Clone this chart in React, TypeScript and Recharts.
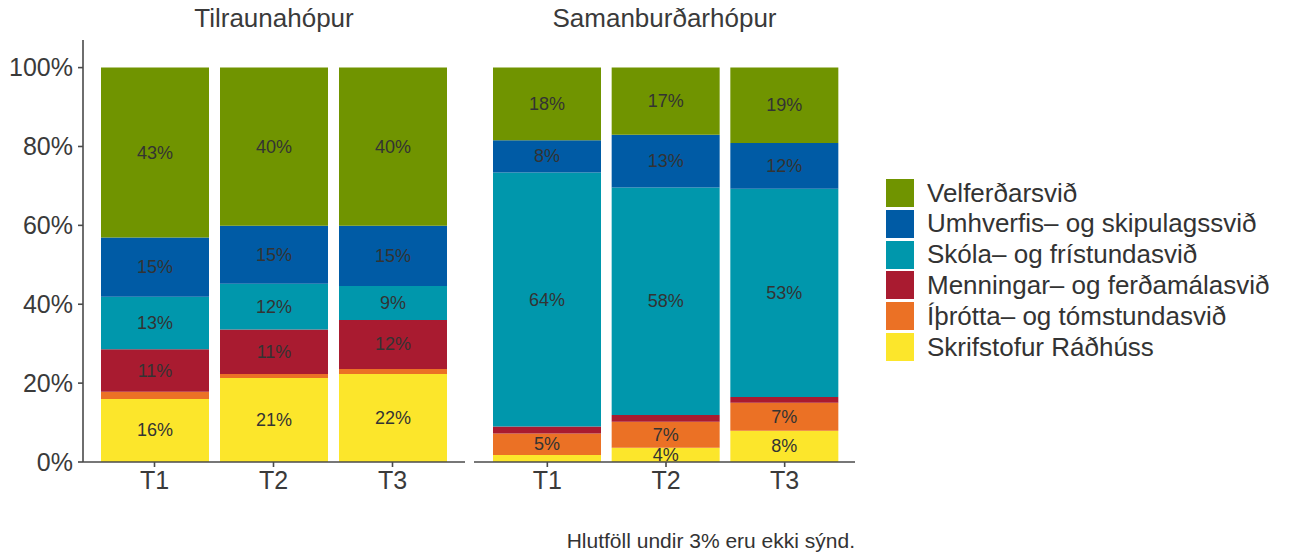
import React from "react";
import { BarChart, Bar, XAxis, YAxis, LabelList } from "recharts";

const periods = ["T1", "T2", "T3"];

// Tilraunahópur (share in %)
const tilSkrif = [16.0, 21.3, 22.3];
const tilIthrott = [1.8, 1.0, 1.3];
const tilMenning = [10.8, 11.3, 12.4];
const tilSkoli = [13.3, 11.6, 8.6];
const tilUmhverfi = [15.0, 14.7, 15.3];
const tilVelferd = [43.1, 40.1, 40.1];

// Samanburðarhópur (share in %)
const samSkrif = [1.8, 3.6, 7.9];
const samIthrott = [5.4, 6.6, 7.1];
const samMenning = [1.8, 1.7, 1.5];
const samSkoli = [64.4, 57.7, 52.8];
const samUmhverfi = [8.2, 13.4, 11.6];
const samVelferd = [18.4, 17.0, 19.1];

const yTicks = [0, 20, 40, 60, 80, 100];

// bottom to top in the stack
const series = [
  { key: "skrif", name: "Skrifstofur Ráðhúss", color: "#fce62b" },
  { key: "ithrott", name: "Íþrótta– og tómstundasvið", color: "#eb7125" },
  { key: "menning", name: "Menningar– og ferðamálasvið", color: "#a91b30" },
  { key: "skoli", name: "Skóla– og frístundasvið", color: "#0097ac" },
  { key: "umhverfi", name: "Umhverfis– og skipulagssvið", color: "#005ba5" },
  { key: "velferd", name: "Velferðarsvið", color: "#709400" },
];

const FONT = "'Liberation Sans', Arial, Helvetica, sans-serif";
const TEXT = "#3a3a3a";
const AXIS = "#4a4a4a";

function buildRows(cols: number[][]) {
  return periods.map((p, i) => {
    const row: Record<string, string | number> = { name: p };
    series.forEach((s, j) => {
      row[s.key] = cols[j][i];
    });
    return row;
  });
}

const tilData = buildRows([tilSkrif, tilIthrott, tilMenning, tilSkoli, tilUmhverfi, tilVelferd]);
const samData = buildRows([samSkrif, samIthrott, samMenning, samSkoli, samUmhverfi, samVelferd]);

function SegmentLabel(props: any) {
  const { x, y, width, height, value } = props;
  const v = Number(value);
  if (!(v >= 3)) return null;
  return (
    <text
      x={Number(x) + Number(width) / 2}
      y={Number(y) + Number(height) / 2}
      textAnchor="middle"
      dominantBaseline="central"
      fill="#333333"
      fontSize={18}
      fontFamily={FONT}
    >
      {Math.round(v)}%
    </text>
  );
}

function Panel({ data, showY, width, pad }: { data: any[]; showY: boolean; width: number; pad: { left: number; right: number } }) {
  return (
    <BarChart
      width={width}
      height={502}
      data={data}
      margin={{ top: 40, right: 0, bottom: 0, left: 0 }}
      barSize={108}
    >
      <XAxis
        dataKey="name"
        padding={pad}
        height={40}
        tickSize={5}
        tickMargin={4}
        stroke={AXIS}
        axisLine={{ stroke: AXIS, strokeWidth: 1.6 }}
        tickLine={{ stroke: AXIS, strokeWidth: 1.6 }}
        tick={{ fill: TEXT, fontSize: 25, fontFamily: FONT }}
      />
      <YAxis
        hide={!showY}
        width={83}
        domain={[0, 107]}
        ticks={yTicks}
        allowDataOverflow
        tickSize={5}
        tickMargin={5}
        axisLine={{ stroke: AXIS, strokeWidth: 1.6 }}
        tickLine={{ stroke: AXIS, strokeWidth: 1.6 }}
        tick={{ fill: TEXT, fontSize: 25, fontFamily: FONT }}
        tickFormatter={(v) => `${v}%`}
      />
      {series.map((s) => (
        <Bar key={s.key} dataKey={s.key} stackId="a" fill={s.color} isAnimationActive={false}>
          <LabelList dataKey={s.key} content={SegmentLabel} />
        </Bar>
      ))}
    </BarChart>
  );
}

export default function App() {
  const legendItems = [...series].reverse();
  return (
    <div
      style={{
        position: "absolute",
        left: 0,
        top: 0,
        width: 1290,
        height: 556,
        background: "#ffffff",
        fontFamily: FONT,
        color: TEXT,
      }}
    >
      <div style={{ position: "absolute", left: 83, top: 3, width: 382, textAlign: "center", fontSize: 26 }}>
        Tilraunahópur
      </div>
      <div style={{ position: "absolute", left: 474, top: 3, width: 381, textAlign: "center", fontSize: 26 }}>
        Samanburðarhópur
      </div>
      <div style={{ position: "absolute", left: 0, top: 0 }}>
        <Panel data={tilData} showY={true} width={465} pad={{ left: 12, right: 13 }} />
      </div>
      <div style={{ position: "absolute", left: 474, top: 0 }}>
        <Panel data={samData} showY={false} width={381} pad={{ left: 14, right: 11 }} />
      </div>
      {legendItems.map((s, i) => (
        <div
          key={s.key}
          style={{
            position: "absolute",
            left: 886,
            top: 179 + i * 30.8,
            height: 28,
            display: "flex",
            alignItems: "center",
            whiteSpace: "nowrap",
          }}
        >
          <div style={{ width: 28, height: 28, background: s.color }} />
          <span style={{ marginLeft: 13, fontSize: 26, color: "#333333" }}>{s.name}</span>
        </div>
      ))}
      <div
        style={{
          position: "absolute",
          right: 1290 - 855,
          top: 529,
          fontSize: 21,
          color: "#333333",
          whiteSpace: "nowrap",
        }}
      >
        Hlutföll undir 3% eru ekki sýnd.
      </div>
    </div>
  );
}
